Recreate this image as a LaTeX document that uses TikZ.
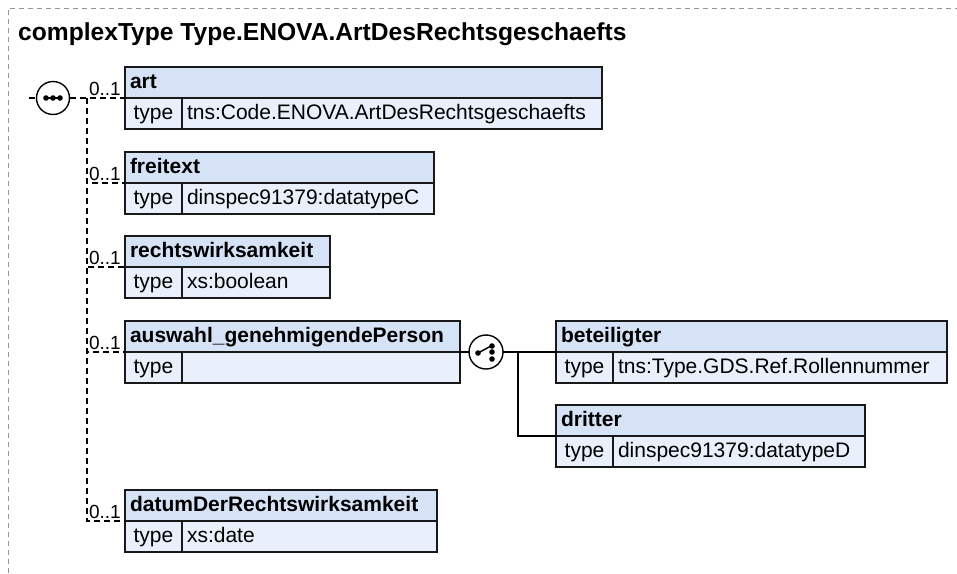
\documentclass[tikz,border=0pt]{standalone}
\usepackage{fontspec}
\setmainfont{Liberation Sans}
\definecolor{hdrfill}{RGB}{214,227,247}
\definecolor{typefill}{RGB}{234,240,251}
\definecolor{frame}{RGB}{150,150,150}
\tikzset{
  box/.style={draw=black!90, line width=1.4pt, rectangle, inner xsep=5pt, inner ysep=0pt, outer sep=0pt, minimum height=31pt, text height=16.5pt, text depth=4pt, anchor=north west, align=left},
  hdr/.style={box, fill=hdrfill, font=\fontsize{21}{24}\selectfont\bfseries},
  tcell/.style={box, fill=typefill, font=\fontsize{21}{24}\selectfont, minimum width=57pt, align=center},
  tval/.style={box, fill=typefill, font=\fontsize{21}{24}\selectfont},
  card/.style={font=\fontsize{19}{20}\selectfont, inner sep=1pt, anchor=south east},
  dline/.style={line width=1.3pt, dash pattern=on 6pt off 4pt},
  sline/.style={line width=1.3pt},
  compc/.style={circle, draw=black, line width=1.4pt, fill=white, minimum size=32pt, inner sep=0pt, outer sep=0pt},
}
\newcommand\xelem[6]{% name, x, ytop, width, header, type
  \pgfmathsetmacro\xtw{#4-10}
  \pgfmathsetmacro\xvw{#4-57-10}
  \node[hdr, text width=\xtw pt] (#1) at (#2,#3) {#5};
  \node[tcell] (#1-t) at (#1.south west) {type};
  \node[tval, text width=\xvw pt] (#1-v) at (#1-t.north east) {#6};
}
\begin{document}
\begin{tikzpicture}[x=1pt,y=-1pt]
\useasboundingbox (0,0) rectangle (957,573);
% outer frame
\coordinate (fbl) at (8,573);
\coordinate (ftl) at (8,8);
\coordinate (ftr) at (957,8);
\draw[frame, line width=1pt, dash pattern=on 5pt off 4pt] (fbl) -- (ftl) -- (ftr);
\node[anchor=base west, inner sep=0pt, font=\fontsize{24.6}{28}\selectfont\bfseries] (title) at (18,40) {complexType Type.ENOVA.ArtDesRechtsgeschaefts};

% elements
\xelem{art}{125}{67}{477}{art}{tns:Code.ENOVA.ArtDesRechtsgeschaefts}
\xelem{frei}{125}{152}{309}{freitext}{dinspec91379:datatypeC}
\xelem{rw}{125}{236}{205}{rechtswirksamkeit}{xs:boolean}
\xelem{aw}{125}{321}{335}{auswahl\_genehmigendePerson}{}
\xelem{bet}{556}{321}{391}{beteiligter}{tns:Type.GDS.Ref.Rollennummer}
\xelem{dri}{556}{405}{309}{dritter}{dinspec91379:datatypeD}
\xelem{dat}{125}{490}{312}{datumDerRechtswirksamkeit}{xs:date}

% sequence compositor
\node[compc, minimum size=33pt] (seq) at (53,98) {};
\draw[line width=1.2pt] ([xshift=-9pt]seq.center) -- ([xshift=9pt]seq.center);
\foreach \dx in {-7,0,7} \fill ([xshift=\dx pt]seq.center) circle (2.8pt);
\coordinate (seqin) at (29,98);
\coordinate (bus) at (87,98);
\draw[dline] (seqin) -- (seq.west);
\draw[dline] (seq.east) -- (bus) -- (art.south west);
\draw[dline] (bus) |- (frei.south west);
\draw[dline] (bus) |- (rw.south west);
\draw[dline] (bus) |- (aw.south west);
\draw[dline] (bus) |- (dat.south west);
\foreach \n in {art,frei,rw,aw,dat}
  \node[card] (\n-card) at ([xshift=-3pt,yshift=1.5pt]\n.south west) {0..1};

% choice compositor
\node[compc, minimum size=34pt] (ch) at (486,352) {};
\fill ([xshift=-8pt,yshift=-1pt]ch.center) circle (2.8pt);
\draw[line width=1.5pt] ([xshift=-8pt,yshift=-1pt]ch.center) -- ([xshift=5pt,yshift=6pt]ch.center);
\foreach \dy in {6,0,-7} \fill ([xshift=6pt,yshift=\dy pt]ch.center) circle (2.8pt);
\coordinate (chbus) at (518,352);
\draw[sline] (aw.south east) -- (ch.west);
\draw[sline] (ch.east) -- (bet.south west);
\draw[sline] (chbus) |- (dri.south west);
\end{tikzpicture}
\end{document}
